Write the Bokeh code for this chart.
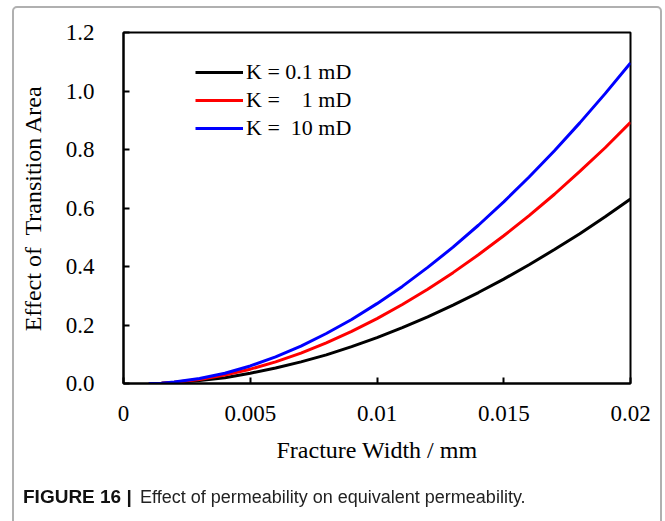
from bokeh.plotting import figure
from bokeh.models import Range1d, FixedTicker, Legend, LegendItem, Div
from bokeh.layouts import column
from bokeh.embed import file_html
from bokeh.resources import INLINE

# ---- data ----
width_mm = [0.001, 0.0015, 0.002, 0.003, 0.004, 0.005, 0.006, 0.007, 0.008, 0.009, 0.010,
            0.011, 0.012, 0.013, 0.014, 0.015, 0.016, 0.017, 0.018, 0.019, 0.020]
k_01 = [0.000, 0.001, 0.003, 0.010, 0.020, 0.035, 0.053, 0.074, 0.098, 0.126, 0.157,
        0.191, 0.228, 0.268, 0.311, 0.357, 0.406, 0.458, 0.512, 0.570, 0.631]
k_1 = [0.000, 0.001, 0.004, 0.014, 0.029, 0.049, 0.074, 0.104, 0.139, 0.178, 0.222,
       0.270, 0.322, 0.379, 0.440, 0.505, 0.574, 0.647, 0.725, 0.806, 0.893]
k_10 = [0.000, 0.001, 0.005, 0.017, 0.035, 0.060, 0.091, 0.128, 0.171, 0.219, 0.273,
        0.332, 0.397, 0.466, 0.541, 0.621, 0.706, 0.796, 0.891, 0.991, 1.096]

series_labels = ["K = 0.1 mD", "K =\u00a0\u00a0\u00a0 1 mD", "K =\u00a0 10 mD"]
series_colors = ["#000000", "#ff0000", "#0000ff"]

x_ticks = [0, 0.005, 0.01, 0.015, 0.02]
x_tick_labels = ["0", "0.005", "0.01", "0.015", "0.02"]
y_ticks = [0.0, 0.2, 0.4, 0.6, 0.8, 1.0, 1.2]
y_tick_labels = ["0.0", "0.2", "0.4", "0.6", "0.8", "1.0", "1.2"]

x_title = "Fracture Width / mm"
y_title = "Effect of\u00a0 Transition Area"
caption_bold = "FIGURE 16 |"
caption_text = "Effect of permeability on equivalent permeability."

SERIF = "Liberation Serif"
SANS = "Liberation Sans"

# frame geometry (pixels)
FL, FR, FT, FB = 123, 630, 32, 383
W, H = 665, 516

p = figure(width=W, height=H, output_backend="svg", toolbar_location=None,
           x_range=Range1d(0, 0.02), y_range=Range1d(0, 1.2),
           min_border_left=FL, min_border_right=W - FR,
           min_border_top=FT, min_border_bottom=H - FB)
p.margin = 0
p.background_fill_color = "white"
p.border_fill_color = "white"
p.outline_line_color = "black"
p.outline_line_width = 2
p.xgrid.visible = False
p.ygrid.visible = False

renderers = []
for ys, c in zip([k_01, k_1, k_10], series_colors):
    renderers.append(p.line(width_mm, ys, line_color=c, line_width=3))

xa = p.xaxis[0]
xa.ticker = FixedTicker(ticks=x_ticks)
xa.major_label_overrides = {t: l for t, l in zip(x_ticks, x_tick_labels)}
xa.axis_label = x_title
ya = p.yaxis[0]
ya.ticker = FixedTicker(ticks=y_ticks)
ya.major_label_overrides = {t: l for t, l in zip(y_ticks, y_tick_labels)}
ya.axis_label = y_title

for ax in (xa, ya):
    ax.axis_line_color = "black"
    ax.axis_line_width = 2
    ax.major_tick_line_color = "black"
    ax.major_tick_line_width = 2
    ax.major_tick_in = 6
    ax.major_tick_out = 0
    ax.minor_tick_line_color = None
    ax.major_label_text_font = SERIF
    ax.major_label_text_font_size = "23px"
    ax.major_label_text_color = "black"
    ax.axis_label_text_font = SERIF
    ax.axis_label_text_font_size = "24px"
    ax.axis_label_text_font_style = "normal"
    ax.axis_label_text_color = "black"

xa.major_label_standoff = 22
xa.axis_label_standoff = 13
ya.major_label_standoff = 29
ya.axis_label_standoff = 17

legend = Legend(
    items=[LegendItem(label=l, renderers=[r]) for l, r in zip(series_labels, renderers)],
    location=(72, 241), orientation="vertical",
    background_fill_alpha=0, border_line_alpha=0,
    padding=0, spacing=0, margin=0,
    glyph_width=48, glyph_height=28, label_height=28, label_standoff=3,
    label_text_font=SERIF, label_text_font_size="22px",
    label_text_color="black", label_text_baseline="middle",
)
p.add_layout(legend)

# panel frame and caption (HTML, placed relative to the window)
frame_html = ('<div style="position:fixed; left:12px; top:6px; width:650px; height:600px; '
              'box-sizing:border-box; border:2px solid #b0b0b0; border-radius:5px; '
              'pointer-events:none;"></div>')
cap_html = ('<div style="position:fixed; left:23px; top:487px; line-height:1; white-space:nowrap; '
            f'font-family:\'{SANS}\'; font-weight:bold; font-size:19px; color:#111;">{caption_bold}</div>'
            '<div style="position:fixed; left:140px; top:488px; line-height:1; white-space:nowrap; '
            f'font-family:\'{SANS}\'; font-size:18px; color:#222;">{caption_text}</div>')
caption = Div(text=frame_html + cap_html, width=W, height=5, margin=0)

root = column(p, caption, spacing=0)
open("out.html", "w").write(file_html(root, INLINE))
